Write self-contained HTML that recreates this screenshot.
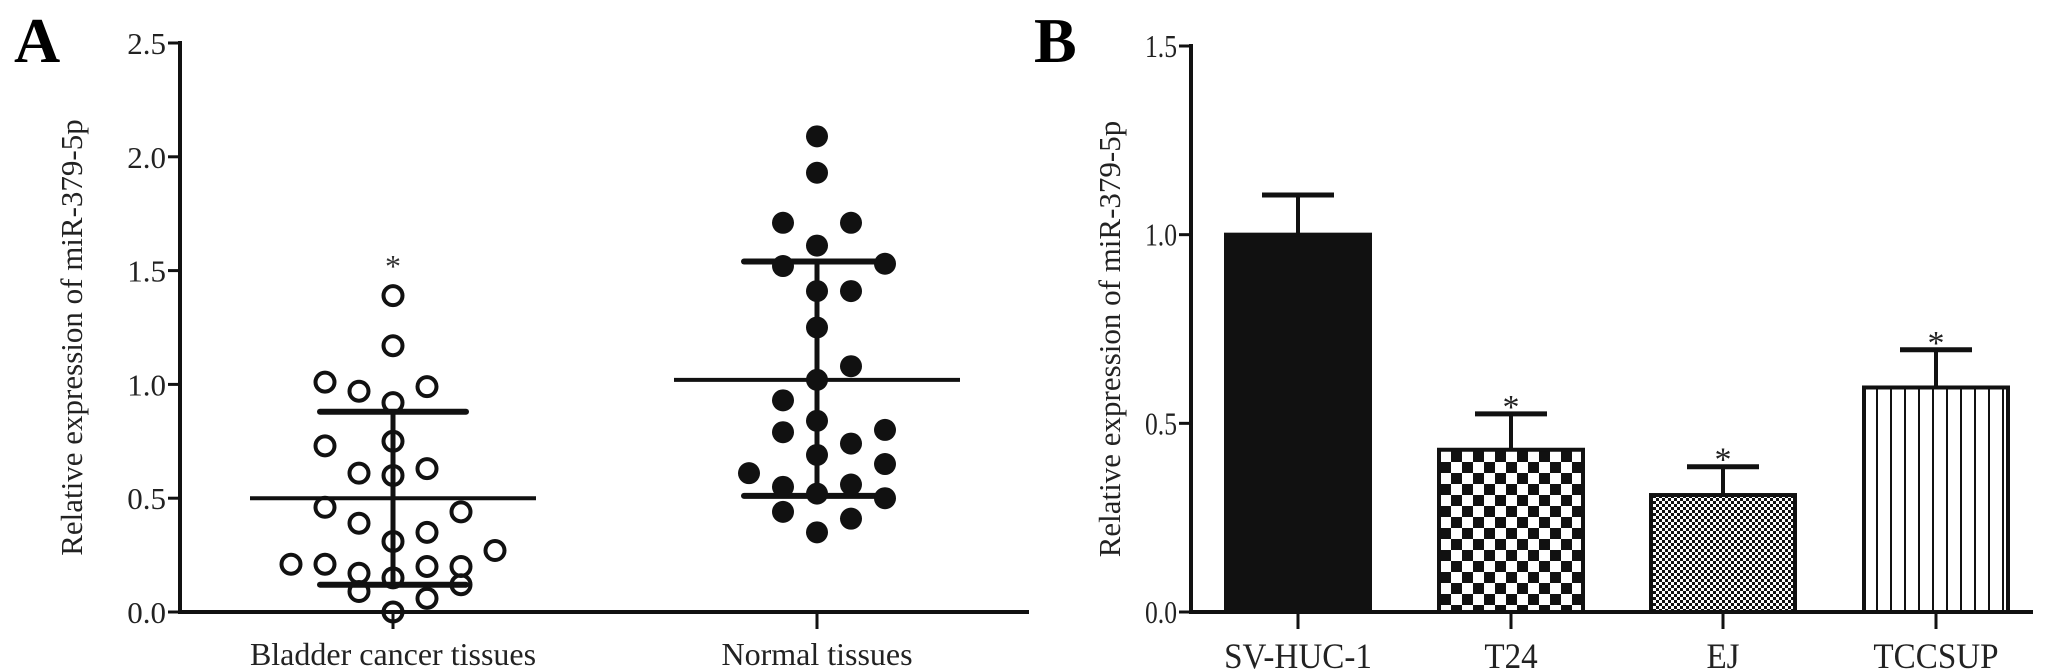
<!DOCTYPE html>
<html><head><meta charset="utf-8"><style>
html,body{margin:0;padding:0;background:#fff;}
svg{display:block;font-family:"Liberation Serif",serif;}
</style></head><body>
<svg id="chart" width="2054" height="672" viewBox="0 0 2054 672" xmlns="http://www.w3.org/2000/svg">
<defs>
<pattern id="checker" patternUnits="userSpaceOnUse" width="22" height="22" x="1440" y="0">
<rect width="22" height="22" fill="#fff"/><rect width="11" height="11" fill="#111"/><rect x="11" y="11" width="11" height="11" fill="#111"/>
</pattern>
<pattern id="dots" patternUnits="userSpaceOnUse" width="6" height="6">
<rect width="6" height="6" fill="#fff"/><rect width="3" height="3" fill="#111"/><rect x="3" y="3" width="3" height="3" fill="#111"/>
</pattern>
<pattern id="vlines" patternUnits="userSpaceOnUse" width="14" height="10" x="1864">
<rect width="14" height="10" fill="#fff"/><rect x="12" width="2.5" height="10" fill="#111"/>
</pattern>
</defs>
<g id="panelA"></g>
<g id="panelB"></g>
</svg>
<script>
// ---- Panel A data ----
const aCategories = ["Bladder cancer tissues", "Normal tissues"];
const aYTicks = [0, 0.5, 1.0, 1.5, 2.0, 2.5];
const aYTickLabels = ["0.0", "0.5", "1.0", "1.5", "2.0", "2.5"];
// [column offset, value]
const cancerPoints = [[-3,0.21],[-2,1.01],[-2,0.73],[-2,0.46],[-2,0.21],[-1,0.97],[-1,0.61],[-1,0.39],[-1,0.17],[-1,0.09],
 [0,1.39],[0,1.17],[0,0.92],[0,0.75],[0,0.60],[0,0.31],[0,0.15],[0,0.0],[1,0.99],[1,0.63],[1,0.35],[1,0.20],[1,0.06],
 [2,0.44],[2,0.20],[2,0.12],[3,0.27]];
const normalPoints = [[0,2.09],[0,1.93],[-1,1.71],[1,1.71],[0,1.61],[-1,1.52],[2,1.53],[0,1.41],[1,1.41],[0,1.25],[0,1.02],
 [1,1.08],[-1,0.93],[0,0.84],[-1,0.79],[2,0.80],[1,0.74],[0,0.69],[2,0.65],[-2,0.61],[-1,0.55],[0,0.52],[1,0.56],[2,0.50],
 [-1,0.44],[1,0.41],[0,0.35]];
const aMeans = [0.50, 1.02];
const aSDLow = [0.12, 0.51];
const aSDHigh = [0.88, 1.54];

// ---- Panel B data ----
const bCategories = ["SV-HUC-1", "T24", "EJ", "TCCSUP"];
const bValues = [1.0, 0.43, 0.31, 0.595];
const bErrors = [0.105, 0.095, 0.075, 0.10];
const bStars = [false, true, true, true];
const bYTicks = [0, 0.5, 1.0, 1.5];
const bYTickLabels = ["0.0", "0.5", "1.0", "1.5"];
const bFills = ["#111", "url(#checker)", "url(#dots)", "url(#vlines)"];

const NS = "http://www.w3.org/2000/svg";
function mk(parent, tag, attrs, text) {
  const e = document.createElementNS(NS, tag);
  for (const k in attrs) e.setAttribute(k, attrs[k]);
  if (text !== undefined) e.textContent = text;
  parent.appendChild(e);
  return e;
}

// Panel A
(function(){
  const g = document.getElementById('panelA');
  const y0 = 612, yTop = 43, vmax = 2.5, axX = 180, axEnd = 1029;
  const ay = v => y0 - (v / vmax) * (y0 - yTop);
  const cx = [393, 817];
  const colW = 34;
  let t = mk(g,'text',{x:14,y:62,'font-size':64,'font-weight':'bold'},'A');
   
  let l = mk(g,'line',{x1:axX,y1:yTop-2,x2:axX,y2:y0+2,stroke:'#111','stroke-width':4});
   
  l = mk(g,'line',{x1:axX-2,y1:y0,x2:axEnd,y2:y0,stroke:'#111','stroke-width':4});
   
  aYTicks.forEach((v,i)=>{
    const tk = mk(g,'line',{x1:axX-12,y1:ay(v),x2:axX,y2:ay(v),stroke:'#111','stroke-width':3});
     
    const tl = mk(g,'text',{x:axX-14,y:ay(v)+11,'font-size':31,'text-anchor':'end',fill:'#222'},aYTickLabels[i]);
     
  });
  t = mk(g,'text',{transform:'translate(82,'+((y0+yTop)/2+10)+') rotate(-90)','font-size':31,'text-anchor':'middle',fill:'#222'},'Relative expression of miR-379-5p');
   
  aCategories.forEach((c,i)=>{
    const tk = mk(g,'line',{x1:cx[i],y1:y0,x2:cx[i],y2:y0+17,stroke:'#111','stroke-width':3});
     
    const tl = mk(g,'text',{x:cx[i],y:y0+53,'font-size':32,'text-anchor':'middle',fill:'#222'},c);
     
    let m = mk(g,'line',{x1:cx[i]-143,y1:ay(aMeans[i]),x2:cx[i]+143,y2:ay(aMeans[i]),stroke:'#111','stroke-width':4});
     
    m = mk(g,'line',{x1:cx[i],y1:ay(aSDLow[i]),x2:cx[i],y2:ay(aSDHigh[i]),stroke:'#111','stroke-width':5});
     
    [aSDLow[i],aSDHigh[i]].forEach(v=>{
      const cp = mk(g,'line',{x1:cx[i]-73,y1:ay(v),x2:cx[i]+73,y2:ay(v),stroke:'#111','stroke-width':6,'stroke-linecap':'round'});
       
    });
  });
  cancerPoints.forEach(p=>{
    const c = mk(g,'circle',{cx:cx[0]+p[0]*colW,cy:ay(p[1]),r:9.5,fill:'none',stroke:'#111','stroke-width':4});
     
  });
  normalPoints.forEach(p=>{
    const c = mk(g,'circle',{cx:cx[1]+p[0]*colW,cy:ay(p[1]),r:11,fill:'#111'});
     
  });
  t = mk(g,'text',{x:cx[0],y:ay(1.55)+18,'font-size':32,'text-anchor':'middle',fill:'#333'},'*');
   
})();

// Panel B
(function(){
  const g = document.getElementById('panelB');
  const y0 = 612, yTop = 46, vmax = 1.5, axX = 1191, axEnd = 2033;
  const by = v => y0 - (v / vmax) * (y0 - yTop);
  const centers = [1298, 1511, 1723, 1936];
  const bw = 144;
  let t = mk(g,'text',{x:1034,y:62,'font-size':64,'font-weight':'bold'},'B');
   
  bCategories.forEach((c,i)=>{
    const top = by(bValues[i]);
    const r = mk(g,'rect',{x:centers[i]-bw/2,y:top,width:bw,height:y0-top,fill:bFills[i],stroke:'#111','stroke-width':4});
     
    const et = by(bValues[i]+bErrors[i]);
    let e = mk(g,'line',{x1:centers[i],y1:top,x2:centers[i],y2:et,stroke:'#111','stroke-width':4});
     
    e = mk(g,'line',{x1:centers[i]-36,y1:et,x2:centers[i]+36,y2:et,stroke:'#111','stroke-width':5});
     
    if (bStars[i]) {
      const s = mk(g,'text',{x:centers[i],y:et+4,'font-size':34,'text-anchor':'middle',fill:'#222'},'*');
       
    }
    const tk = mk(g,'line',{x1:centers[i],y1:y0,x2:centers[i],y2:y0+17,stroke:'#111','stroke-width':3});
     
    const tl = mk(g,'text',{x:0,y:0,'font-size':36,'text-anchor':'middle',fill:'#222',transform:'translate('+centers[i]+','+(y0+56)+') scale(0.92,1)'},c);
     
  });
  let l = mk(g,'line',{x1:axX,y1:yTop-2,x2:axX,y2:y0+2,stroke:'#111','stroke-width':4});
   
  l = mk(g,'line',{x1:axX-2,y1:y0,x2:axEnd,y2:y0,stroke:'#111','stroke-width':4});
   
  bYTicks.forEach((v,i)=>{
    const tk = mk(g,'line',{x1:axX-12,y1:by(v),x2:axX,y2:by(v),stroke:'#111','stroke-width':3});
     
    const tl = mk(g,'text',{x:0,y:0,'font-size':32,'text-anchor':'end',fill:'#222',transform:'translate('+(axX-14)+','+(by(v)+11)+') scale(0.8,1)'},bYTickLabels[i]);
     
  });
  t = mk(g,'text',{transform:'translate(1120,'+((y0+yTop)/2+10)+') rotate(-90)','font-size':31,'text-anchor':'middle',fill:'#222'},'Relative expression of miR-379-5p');
   
})();
</script>
</body></html>
